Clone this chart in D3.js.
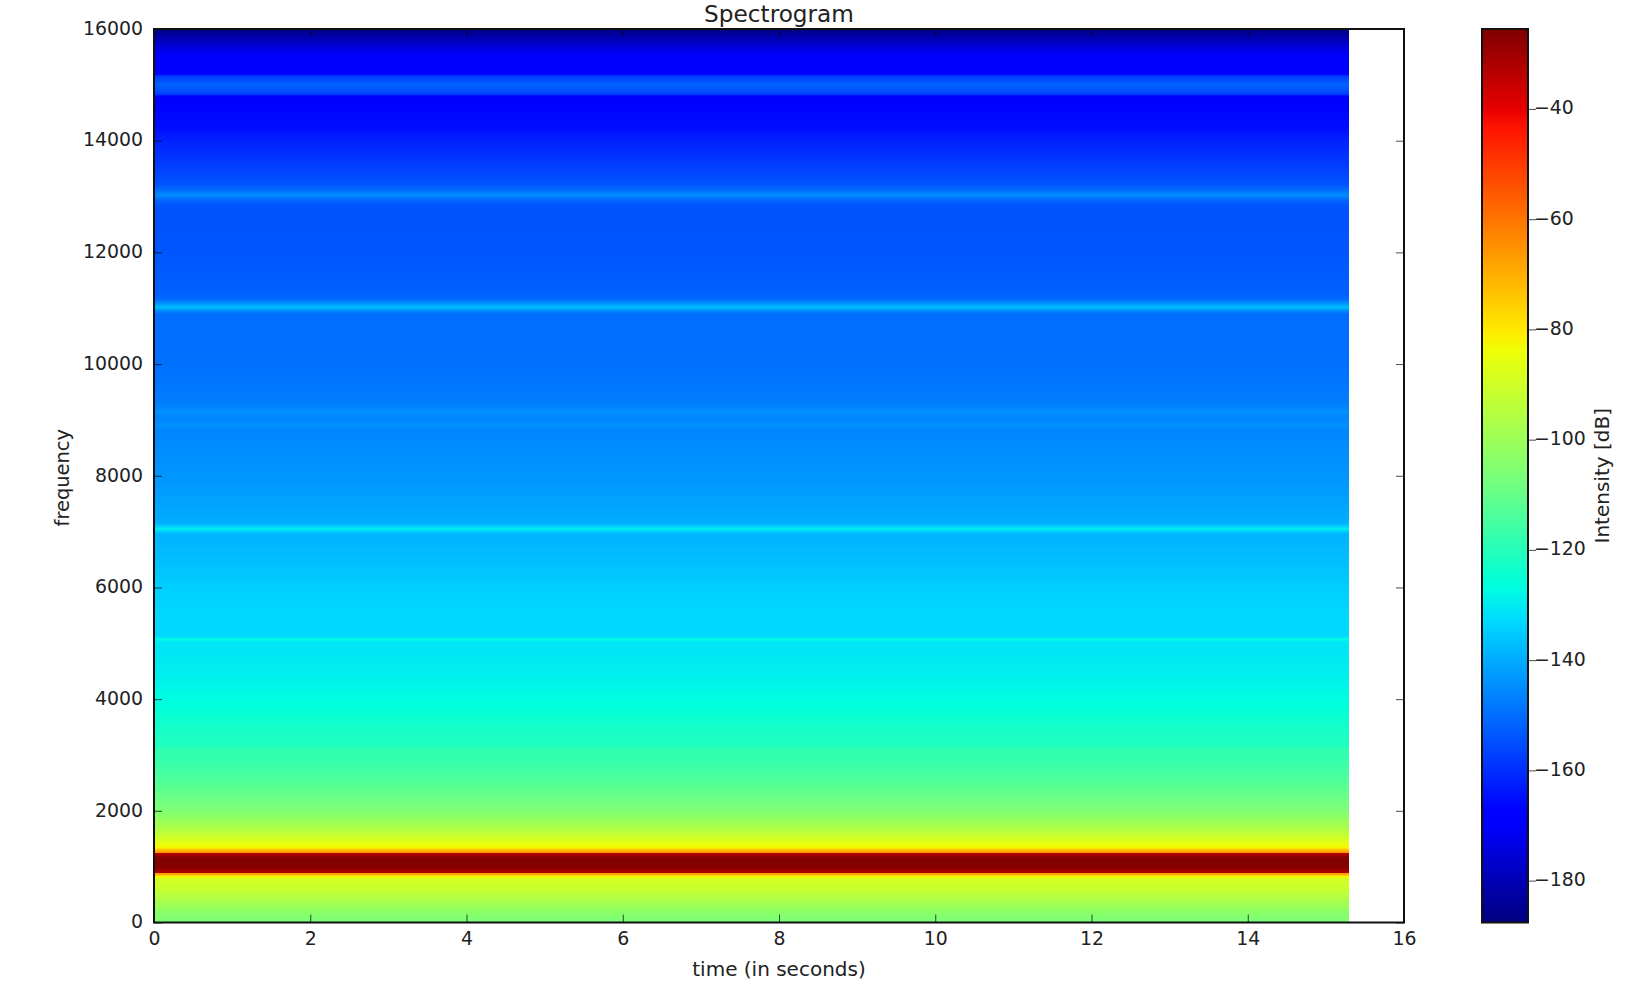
<!DOCTYPE html>
<html>
<head>
<meta charset="utf-8">
<script src="https://cdn.jsdelivr.net/npm/d3@7"></script>
<style>
html,body{margin:0;padding:0;background:#fff;}
svg{display:block;}
text{font-family:"DejaVu Sans",sans-serif;fill:#222;}
</style>
</head>
<body>
<svg id="chart" width="1640" height="992"></svg>
<script>
const title = "Spectrogram";
const xLabel = "time (in seconds)";
const yLabel = "frequency";
const colorbarLabel = "Intensity [dB]";
const xTicks = [0,2,4,6,8,10,12,14,16];
const yTicks = [0,2000,4000,6000,8000,10000,12000,14000,16000];
const colorbarTicks = [-40,-60,-80,-100,-120,-140,-160,-180];
const signalEnd = 15.3;
const dbRange = [-187.6,-25.5];
const frequencies = [0,200,400,590,716,790,823,859,892,894,985,1074,1160,1236,1238,1307,1342,1400,1665,2000,
  2500,3000,3080,3130,3200,3500,4000,4500,4950,5020,5066,5110,5160,5500,6000,6500,6950,7010,7050,7090,
  7150,7300,8000,8800,8860,8910,8960,9020,9090,9150,9210,9300,10000,10900,10960,11020,11085,11170,11300,12000,
  12500,12850,12950,13030,13110,13220,13500,14000,14200,14700,14800,14830,14880,15000,15130,15160,15190,15300,15480,15620,
  15785,15980,16000];
const levels = [-107,-103,-97,-92,-90,-88,-82,-70,-66,-33,-26.5,-25.5,-26.5,-33,-64,-74,-82,-85,-96,-105.7,
  -113,-118.5,-117.5,-120.5,-121,-122.8,-127,-129.7,-131,-131,-127,-131.5,-133,-133,-134.5,-137,-139,-134,-129,-134,
  -139.5,-140.5,-143.5,-146,-145.5,-144,-145.5,-146,-145.5,-144,-146,-147.5,-149.5,-150,-144,-137,-144,-151,-152,-153.8,
  -154,-154,-150,-145,-150,-154,-157,-162,-165,-167.5,-168,-158,-155,-151.5,-157,-158,-168,-168,-168.5,-173,
  -178.7,-186.5,-187];

const svg = d3.select("#chart");
const plot = {left:154, right:1404, top:29, bottom:922.5};
const bar = {left:1482, right:1528};

const x = d3.scaleLinear().domain([0,16]).range([plot.left,plot.right]);
const y = d3.scaleLinear().domain([0,16000]).range([plot.bottom,plot.top]);
const yDb = d3.scaleLinear().domain(dbRange).range([plot.bottom,plot.top]);
const norm = d3.scaleLinear().domain(dbRange).range([0,1]).clamp(true);
const profile = d3.scaleLinear().domain(frequencies).range(levels);

// "jet" colormap, with the slightly stronger greens of the reference
const jetR = d3.scaleLinear().domain([0,.38,.5,.66,.89,1]).range([0,0,.48,1,1,.5]);
const jetG = d3.scaleLinear().domain([0,.125,.375,.64,.91,1]).range([0,0,1,1,0,0]);
const jetB = d3.scaleLinear().domain([0,.11,.34,.42,.65,1]).range([.5,1,1,.72,0,0]);
const jet = db => { const t = norm(db);
  return d3.rgb(255*jetR(t),255*jetG(t),255*jetB(t)).formatHex(); };

// pixel rows of the image
const rows = d3.range(plot.top,plot.bottom);
svg.append("g").selectAll("rect").data(rows).join("rect")
  .attr("x",x(0)).attr("y",d=>d).attr("width",x(signalEnd)-x(0)).attr("height",1)
  .attr("shape-rendering","crispEdges")
  .attr("fill",d=>jet(profile(y.invert(d+.5))));

// colour bar rows
svg.append("g").selectAll("rect").data(rows).join("rect")
  .attr("x",bar.left).attr("y",d=>d).attr("width",bar.right-bar.left).attr("height",1)
  .attr("shape-rendering","crispEdges")
  .attr("fill",d=>jet(yDb.invert(d+.5)));

const fs = 18.9, labelFs = 20;
function styleAxis(g){
  g.select(".domain").remove();
  g.selectAll(".tick line").attr("stroke","#000").attr("stroke-opacity",.7).attr("stroke-width",1);
  g.selectAll(".tick text").attr("font-size",fs).attr("fill","#222");
}
const tick = 8;
svg.append("g").attr("transform",`translate(0,${plot.bottom})`)
  .call(d3.axisBottom(x).tickValues(xTicks).tickSize(-tick).tickPadding(9).tickFormat(d3.format("d"))).call(styleAxis);
svg.append("g").attr("transform",`translate(0,${plot.top})`)
  .call(d3.axisTop(x).tickValues(xTicks).tickSize(-tick).tickFormat("")).call(styleAxis);
svg.append("g").attr("transform",`translate(${plot.left},0)`)
  .call(d3.axisLeft(y).tickValues(yTicks).tickSize(-tick).tickPadding(11).tickFormat(d3.format("d"))).call(styleAxis)
  .selectAll("text").attr("dy","0.28em");
svg.append("g").attr("transform",`translate(${plot.right},0)`)
  .call(d3.axisRight(y).tickValues(yTicks).tickSize(-tick).tickFormat("")).call(styleAxis);
svg.append("g").attr("transform",`translate(${bar.right},0)`)
  .call(d3.axisLeft(yDb).tickValues(colorbarTicks).tickSize(-tick).tickFormat("")).call(styleAxis);
svg.append("g").attr("transform",`translate(${bar.right},0)`)
  .call(d3.axisRight(yDb).tickValues(colorbarTicks).tickSize(0).tickPadding(6).tickFormat(d3.format("d"))).call(styleAxis)
  .selectAll("text").attr("dy","0.26em");

// frames
const frame = (x0,x1) => svg.append("rect").attr("x",x0).attr("y",plot.top)
  .attr("width",x1-x0).attr("height",plot.bottom-plot.top)
  .attr("fill","none").attr("stroke","#111").attr("stroke-width",2);
frame(plot.left,plot.right);
frame(bar.left,bar.right);

// text
const cx = (plot.left+plot.right)/2, cy = (plot.top+plot.bottom)/2;
svg.append("text").attr("x",cx).attr("y",22).attr("text-anchor","middle").attr("font-size",23.2).text(title);
svg.append("text").attr("x",cx).attr("y",976).attr("text-anchor","middle").attr("font-size",labelFs).text(xLabel);
svg.append("text").attr("transform",`translate(69,${cy+2}) rotate(-90)`).attr("text-anchor","middle").attr("font-size",19.4).text(yLabel);
svg.append("text").attr("transform",`translate(1609,${cy}) rotate(-90)`).attr("text-anchor","middle").attr("font-size",labelFs).text(colorbarLabel);
</script>
</body>
</html>
